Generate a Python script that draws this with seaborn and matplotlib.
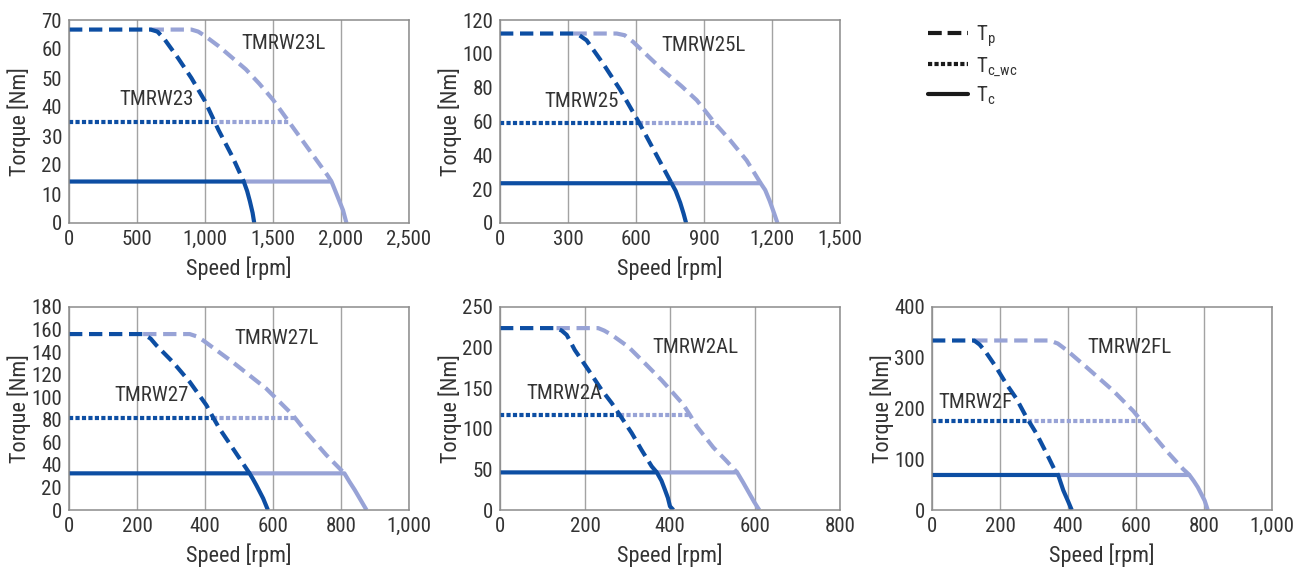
import matplotlib
matplotlib.use("Agg")
import matplotlib.pyplot as plt
import seaborn as sns
from matplotlib import font_manager
from matplotlib.lines import Line2D
from matplotlib.ticker import FuncFormatter, MultipleLocator

# ---------------- #
# data (speed in rpm, torque in Nm)

# TMRW23 / TMRW23L
tmrw23_tp_x = [0, 600, 650, 700, 800, 900, 1000, 1100, 1200, 1285]
tmrw23_tp_y = [66.7, 66.7, 66, 63.5, 57, 50, 42, 32, 23, 14.3]
tmrw23_wc_x = [0, 1060]
tmrw23_wc_y = [35, 35]
tmrw23_tc_x = [0, 1285, 1310, 1330, 1350, 1362]
tmrw23_tc_y = [14.3, 14.3, 11, 7.5, 3.5, 0]

tmrw23l_tp_x = [600, 900, 950, 1000, 1100, 1200, 1300, 1400, 1500, 1600, 1700, 1800, 1900, 1930]
tmrw23l_tp_y = [66.7, 66.7, 66, 64.5, 61, 57, 53, 48, 42.5, 36, 29.5, 23, 16.5, 14.3]
tmrw23l_wc_x = [1060, 1615]
tmrw23l_wc_y = [35, 35]
tmrw23l_tc_x = [1285, 1930, 1950, 1980, 2015, 2040]
tmrw23l_tc_y = [14.3, 14.3, 12, 8.5, 4.4, 0]

# TMRW25 / TMRW25L
tmrw25_tp_x = [0, 324, 350, 382, 456, 529, 615, 691, 757]
tmrw25_tp_y = [112, 112, 111, 108, 94, 79, 59, 40, 23.5]
tmrw25_wc_x = [0, 615]
tmrw25_wc_y = [59, 59]
tmrw25_tc_x = [0, 757, 775, 795, 810, 821]
tmrw25_tc_y = [23.5, 23.5, 19, 12, 5.5, 0]

tmrw25l_tp_x = [324, 515, 550, 588, 650, 721, 800, 868, 948, 1015, 1088, 1150]
tmrw25l_tp_y = [112, 112, 111, 107, 99, 90, 81, 72.6, 59, 49, 37, 23.5]
tmrw25l_wc_x = [615, 948]
tmrw25l_wc_y = [59, 59]
tmrw25l_tc_x = [757, 1150, 1170, 1190, 1210, 1224]
tmrw25l_tc_y = [23.5, 23.5, 19.5, 13, 5.5, 0]

# TMRW27 / TMRW27L
tmrw27_tp_x = [0, 218, 240, 257, 306, 355, 404, 424, 443, 482, 531]
tmrw27_tp_y = [156, 156, 152, 146, 131, 113.6, 93, 82, 72, 54.6, 32.5]
tmrw27_wc_x = [0, 424]
tmrw27_wc_y = [82, 82]
tmrw27_tc_x = [0, 531, 540, 551, 571, 585]
tmrw27_tc_y = [32.5, 32.5, 28, 22, 10.3, 0]

tmrw27l_tp_x = [218, 355, 375, 394, 482, 580, 649, 664, 698, 757, 810]
tmrw27l_tp_y = [156, 156, 154, 150.5, 131, 107.7, 87, 82, 69, 48.7, 32.5]
tmrw27l_wc_x = [424, 664]
tmrw27l_wc_y = [82, 82]
tmrw27l_tc_x = [531, 810, 825, 840, 855, 875]
tmrw27l_tc_y = [32.5, 32.5, 25, 18, 10.3, 0]

# TMRW2A / TMRW2AL
tmrw2a_tp_x = [0, 133, 145, 157, 176, 208, 239, 263, 282, 310, 333, 357, 369]
tmrw2a_tp_y = [224, 224, 221, 215.6, 197, 172.5, 148, 131.6, 117, 94.7, 74, 53.7, 46.3]
tmrw2a_wc_x = [0, 282]
tmrw2a_wc_y = [117, 117]
tmrw2a_tc_x = [0, 369, 380, 388, 395, 400, 408]
tmrw2a_tc_y = [46.3, 46.3, 36, 25, 15, 4.5, 0]

tmrw2al_tp_x = [133, 231, 245, 263, 302, 341, 380, 404, 431, 447, 463, 502, 530, 558]
tmrw2al_tp_y = [224, 224, 221, 215.6, 201, 180.7, 160, 146, 130, 117, 103, 77, 62, 46.3]
tmrw2al_wc_x = [282, 447]
tmrw2al_wc_y = [117, 117]
tmrw2al_tc_x = [369, 558, 572, 585, 598, 610]
tmrw2al_tc_y = [46.3, 46.3, 34, 22, 10, 0]

# TMRW2F / TMRW2FL
tmrw2f_tp_x = [0, 124, 140, 158, 188, 218, 248, 277, 307, 337, 361, 371]
tmrw2f_tp_y = [334, 334, 326, 311.5, 282, 249, 219.7, 183.6, 150.8, 111.5, 78.7, 69]
tmrw2f_wc_x = [0, 283]
tmrw2f_wc_y = [175.7, 175.7]
tmrw2f_tc_x = [0, 371, 386, 401, 411]
tmrw2f_tc_y = [69, 69, 39, 16, 0]

tmrw2fl_tp_x = [124, 346, 370, 396, 455, 533, 592, 640, 689, 738, 757]
tmrw2fl_tp_y = [334, 334, 328, 315, 281, 235, 195, 156, 117, 81, 69]
tmrw2fl_wc_x = [283, 616]
tmrw2fl_wc_y = [175.7, 175.7]
tmrw2fl_tc_x = [371, 757, 770, 782, 802, 811]
tmrw2fl_tc_y = [69, 69, 57, 44.6, 18.4, 0]

# ---------------- #
# style

sns.set_style("white")
names = {f.name for f in font_manager.fontManager.ttflist}
font = "DejaVu Sans"
for cand in ["Roboto Condensed", "Liberation Sans Narrow", "Open Sans Condensed", "Noto Sans Display"]:
    if cand in names:
        font = cand
        break
plt.rcParams["font.family"] = [font, "DejaVu Sans"]
plt.rcParams["mathtext.fontset"] = "custom"
plt.rcParams["mathtext.rm"] = font

DARK = "#0d4ea3"
LIGHT = "#98a3d6"
GRID = "#a3a3a3"
TEXT = "#333333"
LW = 3.0
DASH = (0, (3.2, 1.6))
DOT = (0, (1.0, 0.55))

W, H = 1301, 570
fig = plt.figure(figsize=(W / 100, H / 100), dpi=100)

panels = [
    # left px, top px, axis ranges, motors (light first, dark on top), model labels
    dict(left=69, top=20, xmax=2500, xstep=500, ymax=70, ystep=10,
         motors=[("L", tmrw23l_tp_x, tmrw23l_tp_y, tmrw23l_wc_x, tmrw23l_wc_y, tmrw23l_tc_x, tmrw23l_tc_y),
                 ("D", tmrw23_tp_x, tmrw23_tp_y, tmrw23_wc_x, tmrw23_wc_y, tmrw23_tc_x, tmrw23_tc_y)],
         labels=[("TMRW23L", 1267, 62), ("TMRW23", 372, 42.5)]),
    dict(left=500, top=20, xmax=1500, xstep=300, ymax=120, ystep=20,
         motors=[("L", tmrw25l_tp_x, tmrw25l_tp_y, tmrw25l_wc_x, tmrw25l_wc_y, tmrw25l_tc_x, tmrw25l_tc_y),
                 ("D", tmrw25_tp_x, tmrw25_tp_y, tmrw25_wc_x, tmrw25_wc_y, tmrw25_tc_x, tmrw25_tc_y)],
         labels=[("TMRW25L", 713, 105), ("TMRW25", 196, 71.6)]),
    dict(left=69, top=307, xmax=1000, xstep=200, ymax=180, ystep=20,
         motors=[("L", tmrw27l_tp_x, tmrw27l_tp_y, tmrw27l_wc_x, tmrw27l_wc_y, tmrw27l_tc_x, tmrw27l_tc_y),
                 ("D", tmrw27_tp_x, tmrw27_tp_y, tmrw27_wc_x, tmrw27_wc_y, tmrw27_tc_x, tmrw27_tc_y)],
         labels=[("TMRW27L", 487, 152), ("TMRW27", 134, 101.8)]),
    dict(left=500, top=307, xmax=800, xstep=200, ymax=250, ystep=50,
         motors=[("L", tmrw2al_tp_x, tmrw2al_tp_y, tmrw2al_wc_x, tmrw2al_wc_y, tmrw2al_tc_x, tmrw2al_tc_y),
                 ("D", tmrw2a_tp_x, tmrw2a_tp_y, tmrw2a_wc_x, tmrw2a_wc_y, tmrw2a_tc_x, tmrw2a_tc_y)],
         labels=[("TMRW2AL", 359, 200), ("TMRW2A", 63, 143)]),
    dict(left=932, top=307, xmax=1000, xstep=200, ymax=400, ystep=100,
         motors=[("L", tmrw2fl_tp_x, tmrw2fl_tp_y, tmrw2fl_wc_x, tmrw2fl_wc_y, tmrw2fl_tc_x, tmrw2fl_tc_y),
                 ("D", tmrw2f_tp_x, tmrw2f_tp_y, tmrw2f_wc_x, tmrw2f_wc_y, tmrw2f_tc_x, tmrw2f_tc_y)],
         labels=[("TMRW2FL", 457, 320), ("TMRW2F", 18, 212)]),
]

AX_W, AX_H = 340, 203

for p in panels:
    ax = fig.add_axes([p["left"] / W, 1 - (p["top"] + AX_H) / H, AX_W / W, AX_H / H])

    for shade, tp_x, tp_y, wc_x, wc_y, tc_x, tc_y in p["motors"]:
        color = DARK if shade == "D" else LIGHT
        common = dict(ax=ax, color=color, lw=LW, sort=False, estimator=None)
        sns.lineplot(x=wc_x, y=wc_y, linestyle=DOT, **common)
        sns.lineplot(x=tc_x, y=tc_y, linestyle="-", solid_capstyle="butt", **common)
        sns.lineplot(x=tp_x, y=tp_y, linestyle=DASH, **common)

    for txt, x, y in p["labels"]:
        ax.text(x, y, txt, fontsize=15, color=TEXT, ha="left", va="center")

    ax.set_xlim(0, p["xmax"])
    ax.set_ylim(0, p["ymax"])
    ax.xaxis.set_major_locator(MultipleLocator(p["xstep"]))
    ax.yaxis.set_major_locator(MultipleLocator(p["ystep"]))
    ax.xaxis.set_major_formatter(FuncFormatter(lambda v, pos: f"{v:,.0f}"))
    ax.grid(axis="x", color=GRID, lw=1)
    ax.grid(axis="y", visible=False)
    ax.set_axisbelow(True)
    for s in ax.spines.values():
        s.set_color("#8c8c8c")
        s.set_linewidth(1.1)
    ax.tick_params(axis="x", length=0, pad=5, labelsize=15, labelcolor=TEXT)
    ax.tick_params(axis="y", direction="in", length=5, width=1, color="#8c8c8c",
                   pad=5, labelsize=15, labelcolor=TEXT)
    ax.set_xlabel("Speed [rpm]", fontsize=16, color=TEXT)
    ax.set_ylabel("Torque [Nm]", fontsize=16, color=TEXT)
    ax.xaxis.label.set_va("center")
    ax.yaxis.label.set_va("center")
    ax.xaxis.set_label_coords(0.5, -45 / AX_H)
    ax.yaxis.set_label_coords(-50 / AX_W, 0.5)

handles = [
    Line2D([], [], color="#1a1a1a", lw=LW, linestyle=(0, (3.3, 1.4))),
    Line2D([], [], color="#1a1a1a", lw=LW, linestyle=(0, (1.0, 0.55))),
    Line2D([], [], color="#1a1a1a", lw=LW, linestyle="-"),
]
labels = [r"T$_\mathregular{p}$", r"T$_\mathregular{c\_wc}$", r"T$_\mathregular{c}$"]
fig.legend(handles, labels, loc="upper left", bbox_to_anchor=(928 / W, 1 - 23 / H),
           frameon=False, fontsize=15, handlelength=1.9, handletextpad=0.4,
           labelspacing=0.3, borderpad=0, borderaxespad=0, labelcolor=TEXT)

fig.savefig("out.png", dpi=100)
